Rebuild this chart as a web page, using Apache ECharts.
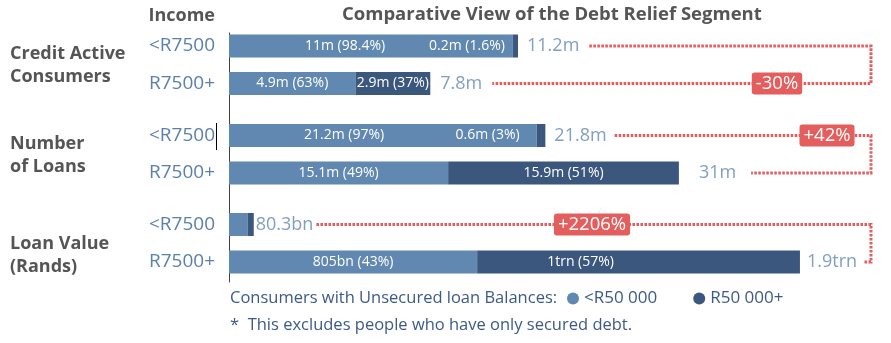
<!DOCTYPE html>
<html>
<head>
<meta charset="utf-8">
<script src="https://cdn.jsdelivr.net/npm/echarts@6/dist/echarts.min.js"></script>
<style>
  html, body { margin: 0; padding: 0; background: #ffffff; }
  #chart { width: 891px; height: 343px; }
</style>
</head>
<body>
<div id="chart"></div>
<script>
// ---- Data ----------------------------------------------------------------
const incomeBands = ['<R7500', 'R7500+'];
const groupNames = ['Credit Active\nConsumers', 'Number\nof Loans', 'Loan Value\n(Rands)'];
const balanceClasses = ['<R50 000', 'R50 000+'];

// Credit active consumers, millions (per income band)
const consumersUnder50k = [11, 4.9];
const consumersOver50k = [0.2, 2.9];
// Number of loans, millions
const loansUnder50k = [21.2, 15.1];
const loansOver50k = [0.6, 15.9];
// Loan value, R billions
const valueUnder50k = [60.1, 805];
const valueOver50k = [20.2, 1047];

// Segment captions
const consumersUnderText = ['11m (98.4%)', '4.9m (63%)'];
const consumersOverText = ['0.2m (1.6%)', '2.9m (37%)'];
const loansUnderText = ['21.2m (97%)', '15.1m (49%)'];
const loansOverText = ['0.6m (3%)', '15.9m (51%)'];
const valueUnderText = ['', '805bn (43%)'];
const valueOverText = ['', '1trn (57%)'];

// Bar total captions
const consumersTotalText = ['11.2m', '7.8m'];
const loansTotalText = ['21.8m', '31m'];
const valueTotalText = ['80.3bn', '1.9trn'];

// ---- Styling / layout -----------------------------------------------------
const FONT = '"Open Sans", "Noto Sans", sans-serif';
const LIGHT = '#6088b0';
const DARK = '#3b577e';
const TOTAL_COLOR = '#6287b2';
const BAND_COLOR = '#5b80ab';
const HEAD_COLOR = '#555555';
const NOTE_COLOR = '#3c5a86';
const RED = '#e45e5e';

const gridLeft = 229, gridWidth = 640, gridHeight = 75;
const gridTops = [27.25, 116.75, 205.75];
const axisMax = [24.8, 44.1, 2076];   // per-group scale (units differ per group)
const bracketX = 871;

const groups = [
  { under: consumersUnder50k, over: consumersOver50k, underText: consumersUnderText, overText: consumersOverText, totalText: consumersTotalText },
  { under: loansUnder50k, over: loansOver50k, underText: loansUnderText, overText: loansOverText, totalText: loansTotalText },
  { under: valueUnder50k, over: valueOver50k, underText: valueUnderText, overText: valueOverText, totalText: valueTotalText }
];

// caption placement per group / row
const underPlace = [
  [{ position: 'insideLeft', distance: 76 }, { position: 'inside' }],
  [{ position: 'insideLeft', distance: 75 }, { position: 'inside' }],
  [{ show: false }, { position: 'inside' }]
];
const overPlace = [
  [{ position: 'left', distance: 8 }, { position: 'inside' }],
  [{ position: 'left', distance: 17 }, { position: 'inside' }],
  [{ show: false }, { position: 'insideLeft', distance: 70 }]
];
const totalGap = [[9, 10], [9, 20], [2, 7]];
const lineGap = [[10, 10], [8, 15], [3, 6]];
const badgeSpot = [{ x: 777, row: 1 }, { x: 827, row: 0 }, { x: 592, row: 0 }];

const totals = groups.map(g => g.under.map((v, i) => +(v + g.over[i]).toFixed(2)));
const changes = totals.map(t => {
  const pct = Math.round((t[1] / t[0] - 1) * 100);
  return (pct > 0 ? '+' : '') + pct + '%';
});

const chart = echarts.init(document.getElementById('chart'), null, { renderer: 'canvas' });

const grids = [], xAxes = [], yAxes = [], series = [];
groups.forEach((g, gi) => {
  grids.push({ left: gridLeft, top: gridTops[gi], width: gridWidth, height: gridHeight });
  xAxes.push({ gridIndex: gi, type: 'value', min: 0, max: axisMax[gi], show: false });
  yAxes.push({
    gridIndex: gi, type: 'category', data: incomeBands, inverse: true,
    axisLine: { show: false }, axisTick: { show: false },
    axisLabel: { color: BAND_COLOR, fontSize: 19, fontFamily: FONT, margin: 14 }
  });
  const labelBase = { show: true, color: '#ffffff', fontSize: 14, fontFamily: FONT };
  series.push({
    name: balanceClasses[0], type: 'bar', stack: 'g' + gi, xAxisIndex: gi, yAxisIndex: gi,
    barWidth: 23, itemStyle: { color: LIGHT },
    data: g.under.map((v, i) => ({ value: v, label: Object.assign({}, labelBase, underPlace[gi][i]) })),
    label: Object.assign({}, labelBase, { formatter: p => g.underText[p.dataIndex] })
  });
  series.push({
    name: balanceClasses[1], type: 'bar', stack: 'g' + gi, xAxisIndex: gi, yAxisIndex: gi,
    barWidth: 23, itemStyle: { color: DARK },
    data: g.over.map((v, i) => ({ value: v, label: Object.assign({}, labelBase, overPlace[gi][i]) })),
    label: Object.assign({}, labelBase, { formatter: p => g.overText[p.dataIndex] })
  });
  series.push({
    type: 'scatter', xAxisIndex: gi, yAxisIndex: gi, symbolSize: 0, silent: true,
    data: totals[gi].map((t, i) => ({ value: [t, i], label: { distance: totalGap[gi][i] } })),
    label: {
      show: true, position: 'right', color: TOTAL_COLOR, fontSize: 18, fontFamily: FONT,
      formatter: p => g.totalText[p.dataIndex]
    }
  });
});

// continuous baseline running down the left of all bars
grids.push({ left: gridLeft, top: 33, width: gridWidth, height: 249 });
xAxes.push({ gridIndex: 3, type: 'value', show: false });
yAxes.push({
  gridIndex: 3, type: 'value', axisLine: { show: true, lineStyle: { color: '#404040', width: 1 } },
  axisTick: { show: false }, axisLabel: { show: false }, splitLine: { show: false }
});

const titleText = (text, left, top, size, weight, color, extra) => Object.assign({
  text, left, top, padding: 0,
  textStyle: { fontFamily: FONT, fontSize: size, fontWeight: weight, color, lineHeight: Math.round(size * 1.28) }
}, extra || {});

const titles = [
  titleText('Comparative View of the Debt Relief Segment', 342, 3, 18.5, 'bold', HEAD_COLOR),
  titleText('Income', null, 4, 18, 'bold', HEAD_COLOR, { right: 676 }),
  titleText(groupNames[0], 10, 42, 18, 'bold', HEAD_COLOR),
  titleText(groupNames[1], 10, 132, 18, 'bold', HEAD_COLOR),
  titleText(groupNames[2], 10, 232, 18, 'bold', HEAD_COLOR),
  titleText('Consumers with Unsecured loan Balances:', 230, 287.5, 16.5, 'normal', NOTE_COLOR),
  titleText('*  This excludes people who have only secured debt.', 230, 315, 16.5, 'normal', NOTE_COLOR)
];

chart.setOption({
  animation: false,
  title: titles,
  legend: {
    data: balanceClasses, left: 567, top: 290, icon: 'circle', itemWidth: 12, itemHeight: 12,
    itemGap: 36, selectedMode: false, padding: 0,
    textStyle: { fontFamily: FONT, fontSize: 17, color: NOTE_COLOR }
  },
  grid: grids, xAxis: xAxes, yAxis: yAxes, series
});

// ---- Bracket connectors and change badges --------------------------------
const ctx = document.createElement('canvas').getContext('2d');
ctx.font = '18px "Open Sans"';
const graphics = [];
groups.forEach((g, gi) => {
  const pts = totals[gi].map((t, i) => {
    const p = chart.convertToPixel({ gridIndex: gi }, [t, i]);
    const w = ctx.measureText(g.totalText[i]).width;
    return { x: p[0] + totalGap[gi][i] + w + lineGap[gi][i], y: p[1] };
  });
  graphics.push({
    type: 'polyline', silent: true, z: 10,
    shape: { points: [[pts[0].x, pts[0].y], [bracketX, pts[0].y], [bracketX, pts[1].y], [pts[1].x, pts[1].y]] },
    style: { stroke: RED, lineWidth: 3, lineDash: [2.6, 1.4], fill: null }
  });
  graphics.push({
    type: 'text', silent: true, z: 20,
    x: badgeSpot[gi].x, y: pts[badgeSpot[gi].row].y,
    style: {
      text: changes[gi], fill: '#ffffff', font: '18.5px "Open Sans"', align: 'center', verticalAlign: 'middle',
      backgroundColor: RED, padding: [2, 4, 1, 4], borderRadius: 3
    }
  });
});
// text cursor beside the loans row label
graphics.push({
  type: 'line', silent: true, shape: { x1: 216.5, y1: 123, x2: 216.5, y2: 150 },
  style: { stroke: '#000000', lineWidth: 1 }
});
chart.setOption({ graphic: graphics });
</script>
</body>
</html>
